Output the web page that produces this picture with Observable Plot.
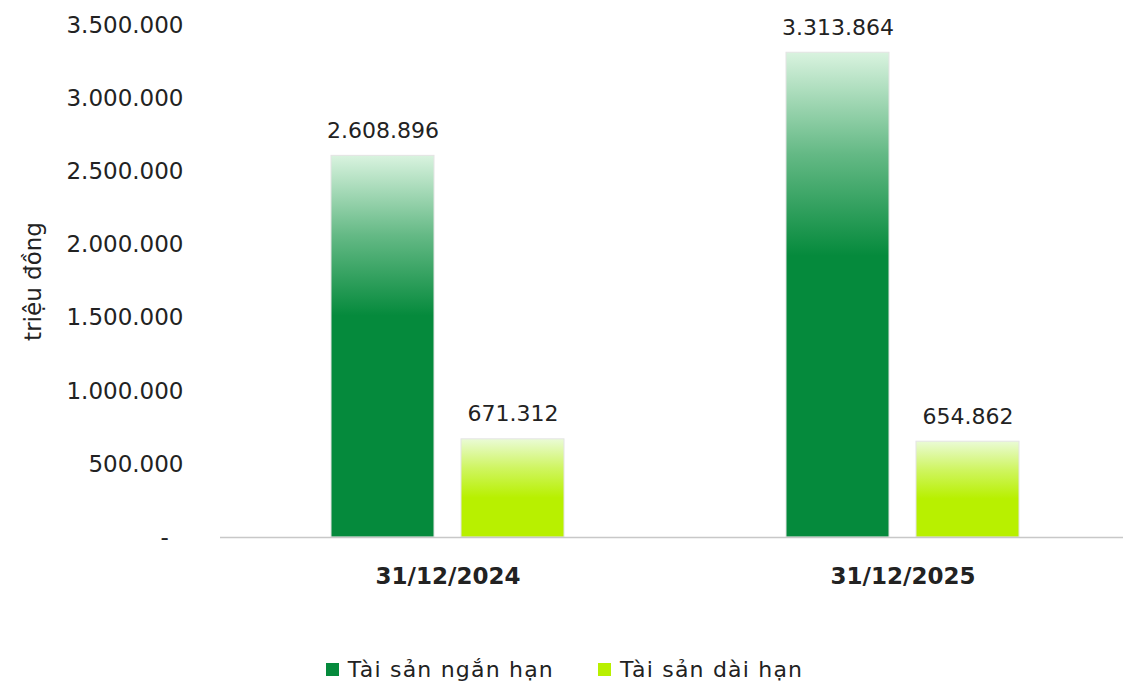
<!DOCTYPE html>
<html><head><meta charset="utf-8">
<script src="https://cdn.jsdelivr.net/npm/d3@7"></script>
<script src="https://cdn.jsdelivr.net/npm/@observablehq/plot@0.6"></script>
<style>
html,body{margin:0;padding:0;background:#fff;overflow:hidden;}
#chart{width:1123px;}
.legend{display:flex;justify-content:center;gap:44px;font-family:"DejaVu Sans",sans-serif;font-size:22px;letter-spacing:1.2px;color:#222;margin-top:27px;padding-left:6px;}
.legend span{display:inline-flex;align-items:center;}
.legend i{display:inline-block;width:13px;height:13px;margin-right:9px;}
</style></head>
<body><div id="chart"></div>
<script>
const dates = ["31/12/2024", "31/12/2025"];
const seriesNames = ["Tài sản ngắn hạn", "Tài sản dài hạn"];
const shortTerm = [2608896, 3313864];
const longTerm = [671312, 654862];
const yTicks = [0, 500000, 1000000, 1500000, 2000000, 2500000, 3000000, 3500000];
const seriesColors = ["#058a3c", "#b8f000"];

const data = [];
dates.forEach((d, i) => {
  data.push({date: d, series: seriesNames[0], value: shortTerm[i]});
  data.push({date: d, series: seriesNames[1], value: longTerm[i]});
});

const loc = d3.formatLocale({decimal: ",", thousands: ".", grouping: [3], currency: ["", ""]});
const fmt = loc.format(",d");

const defs = () => {
  const g = d3.create("svg:defs");
  const mk = (id, light, solid, stop) => {
    const lg = g.append("linearGradient").attr("id", id).attr("x1", 0).attr("y1", 0).attr("x2", 0).attr("y2", 1);
    lg.append("stop").attr("offset", 0).attr("stop-color", light);
    lg.append("stop").attr("offset", stop * 0.5).attr("stop-color", d3.interpolateRgb(light, solid)(0.55));
    lg.append("stop").attr("offset", stop).attr("stop-color", solid);
    lg.append("stop").attr("offset", 1).attr("stop-color", solid);
  };
  mk("gDark", "#d9f3df", seriesColors[0], 0.42);
  mk("gLight", "#eafbd6", seriesColors[1], 0.6);
  return g.node();
};

const chart = Plot.plot({
  width: 1123,
  height: 630,
  marginLeft: 220,
  marginRight: -7,
  marginTop: 25,
  marginBottom: 93,
  style: {fontFamily: "DejaVu Sans, sans-serif", fontSize: "22px", color: "#222", background: "#fff"},
  fx: {domain: dates, padding: 0, label: null},
  x: {domain: seriesNames, paddingInner: 0.21, paddingOuter: 0.85, axis: null},
  y: {domain: [0, 3500000], label: null},
  color: {type: "ordinal", domain: seriesNames, range: ["url(#gDark)", "url(#gLight)"]},
  marks: [
    defs,
    Plot.barY(data, {fx: "date", x: "series", y: "value", fill: "series", stroke: "#e4e4e4", strokeWidth: 1}),
    Plot.text(data, {fx: "date", x: "series", y: "value", text: d => fmt(d.value), dy: -25, fontSize: 22, fill: "#222"}),
    Plot.ruleY([0], {stroke: "#c8c8c8", strokeWidth: 1.5}),
    Plot.axisY({ticks: yTicks, tickSize: 0, tickPadding: 37, fontSize: 23, fill: "#222",
      tickFormat: d => d === 0 ? "-\u00a0\u00a0" : fmt(d),
      label: "triệu đồng", labelAnchor: "center", labelArrow: "none", labelOffset: 196}),
    Plot.axisFx({anchor: "bottom", tickSize: 0, tickPadding: 30, fontSize: 23, fontWeight: "bold", label: null})
  ]
});
document.getElementById("chart").appendChild(chart);

const leg = document.createElement("div");
leg.className = "legend";
seriesNames.forEach((n, i) => {
  const s = document.createElement("span");
  s.innerHTML = `<i style="background:${seriesColors[i]}"></i>${n}`;
  leg.appendChild(s);
});
document.body.appendChild(leg);
</script></body></html>
